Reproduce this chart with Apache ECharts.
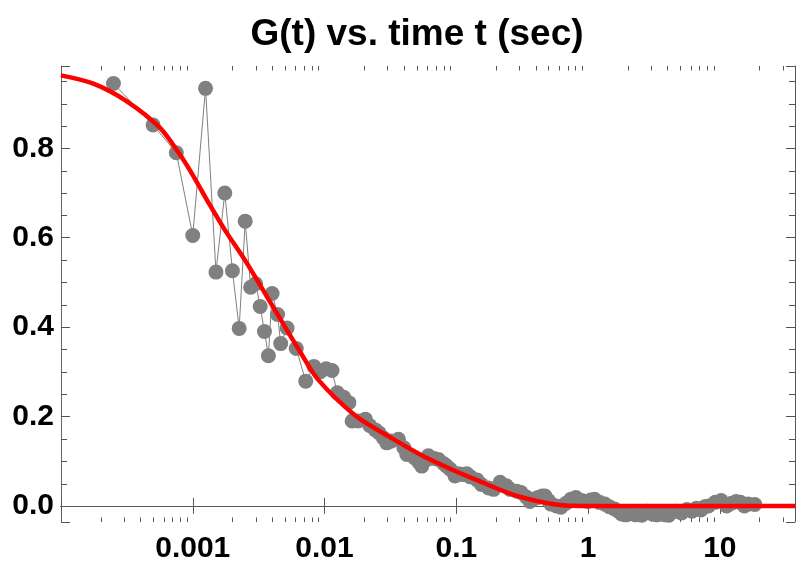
<!DOCTYPE html>
<html>
<head>
<meta charset="utf-8">
<script src="https://cdn.jsdelivr.net/npm/echarts@6/dist/echarts.min.js"></script>
<style>
html,body{margin:0;padding:0;background:#fff;}
#chart{width:798px;height:564px;}
</style>
</head>
<body>
<div id="chart"></div>
<script>
// ---- data ----
const titleText = 'G(t) vs. time t (sec)';
const xMin = 0.0001;
const xMax = 37.2;
const yMin = -0.036;
const yMax = 0.984;

const xTickValues = [0.001, 0.01, 0.1, 1, 10];
const xTickLabels = ['0.001', '0.01', '0.1', '1', '10'];
const yTickValues = [0, 0.2, 0.4, 0.6, 0.8];
const yTickLabels = ['0.0', '0.2', '0.4', '0.6', '0.8'];

const xMinorTicks = [
  0.0002, 0.0003, 0.0004, 0.0005, 0.0006, 0.0007, 0.0008, 0.0009,
  0.002, 0.003, 0.004, 0.005, 0.006, 0.007, 0.008, 0.009,
  0.02, 0.03, 0.04, 0.05, 0.06, 0.07, 0.08, 0.09,
  0.2, 0.3, 0.4, 0.5, 0.6, 0.7, 0.8, 0.9,
  2, 3, 4, 5, 6, 7, 8, 9,
  20, 30
];
const yMinorTicks = [0.05, 0.1, 0.15, 0.25, 0.3, 0.35, 0.45, 0.5, 0.55, 0.65, 0.7, 0.75, 0.85, 0.9, 0.95];

const times = [
  0.00025, 0.0005, 0.00075, 0.001, 0.00125, 0.0015, 0.00175, 0.002, 0.00225, 0.0025,
  0.00275, 0.003, 0.00325, 0.0035, 0.00375, 0.004,
  0.0044, 0.00465, 0.0052, 0.0061, 0.0072, 0.0083, 0.0093, 0.0103, 0.0114, 0.0125,
  0.014, 0.0153, 0.0162, 0.018, 0.0204, 0.022, 0.0243, 0.026, 0.028, 0.0297,
  0.032, 0.0364, 0.04, 0.0421, 0.048, 0.052, 0.0547, 0.06, 0.0614, 0.068,
  0.0731, 0.08, 0.0845, 0.09, 0.0978, 0.104, 0.112, 0.12, 0.128, 0.144,
  0.155, 0.176, 0.192, 0.215, 0.24, 0.256, 0.288, 0.31, 0.34, 0.362,
  0.384, 0.417, 0.448, 0.471, 0.5, 0.523, 0.576, 0.622, 0.68, 0.74,
  0.807, 0.896, 0.995, 1.05, 1.12, 1.22, 1.34, 1.45, 1.59, 1.7,
  1.8, 1.92, 2.05, 2.3, 2.56, 2.82, 3.07, 3.33, 3.58, 3.84,
  4.1, 4.6, 5.12, 5.63, 6.14, 6.66, 7.17, 7.68, 8.19, 9.22,
  10.24, 11.26, 12.29, 13.31, 14.34, 15.36, 16.38, 18.43
];
const gValues = [
  0.945, 0.852, 0.79, 0.605, 0.934, 0.523, 0.70, 0.526, 0.397, 0.637,
  0.489, 0.497, 0.446, 0.39, 0.336, 0.475,
  0.428, 0.363, 0.398, 0.352, 0.279, 0.312, 0.300, 0.307, 0.303, 0.253,
  0.243, 0.231, 0.19, 0.19, 0.194, 0.18, 0.17, 0.163, 0.152, 0.141,
  0.145, 0.149, 0.13, 0.115, 0.108, 0.098, 0.089, 0.104, 0.112, 0.106,
  0.104, 0.095, 0.089, 0.082, 0.067, 0.072, 0.07, 0.072, 0.065, 0.058,
  0.048, 0.04, 0.037, 0.053, 0.045, 0.037, 0.033, 0.03, 0.02, 0.01,
  0.015, 0.019, 0.022, 0.022, 0.012, 0.004, 0.0, -0.003, 0.006, 0.015,
  0.019, 0.012, 0.01, 0.013, 0.015, 0.008, 0.004, -0.002, -0.007, -0.012,
  -0.018, -0.02, -0.018, -0.02, -0.021, -0.012, -0.018, -0.02, -0.016, -0.02,
  -0.021, -0.012, -0.016, -0.008, -0.012, -0.005, -0.009, -0.002, 0.0, 0.008,
  0.012, 0.0, 0.006, 0.01, 0.008, 0.0, 0.004, 0.003
];

const fitTimes = [
  0.0001, 0.000178, 0.000316, 0.000562, 0.000794, 0.001, 0.00133, 0.00178, 0.00251,
  0.00447, 0.00631, 0.00891, 0.017, 0.0309, 0.055, 0.1, 0.148, 0.265, 0.475,
  0.673, 1, 3.16, 37.2
];
const fitValues = [
  0.963, 0.944, 0.905, 0.846, 0.787, 0.740, 0.676, 0.614, 0.548,
  0.425, 0.352, 0.283, 0.203, 0.155, 0.113, 0.077, 0.056, 0.026, 0.007,
  0.001, 0, 0, 0
];

// ---- build ----
const pointData = times.map((t, i) => [t, gValues[i]]);
const fitData = fitTimes.map((t, i) => [t, fitValues[i]]);

// tick marks: [x, y, side(0 bottom,1 top,2 left,3 right), length]
const tickData = [];
xMinorTicks.forEach(t => { tickData.push([t, yMin, 0, 4.5]); tickData.push([t, yMax, 1, 4.5]); });
yMinorTicks.forEach(v => { tickData.push([xMin, v, 2, 6]); tickData.push([xMax, v, 3, 6]); });

function labelFrom(values, labels, v) {
  for (let i = 0; i < values.length; i++) {
    const ref = values[i];
    if (ref === 0 ? Math.abs(v) < 1e-9 : Math.abs(v / ref - 1) < 1e-6) return labels[i];
  }
  return '';
}

const axisColor = '#555';
const labelFont = {
  fontFamily: '"Liberation Sans", Arial, Helvetica, sans-serif',
  fontWeight: 'bold',
  fontSize: 30,
  color: '#000'
};

const chart = echarts.init(document.getElementById('chart'), null, {renderer: 'canvas'});
chart.setOption({
  animation: false,
  backgroundColor: '#fff',
  title: {
    text: titleText,
    left: 412,
    top: 11,
    textAlign: 'center',
    textStyle: {
      fontFamily: '"Liberation Sans", Arial, Helvetica, sans-serif',
      fontWeight: 'bold',
      fontSize: 37,
      color: '#000'
    }
  },
  grid: {left: 61, right: 0, top: 66, bottom: 41, containLabel: false},
  xAxis: [{
    type: 'log', logBase: 10, min: xMin, max: xMax, position: 'bottom',
    axisLine: {show: true, lineStyle: {color: '#222', width: 1}},
    axisTick: {show: true, inside: true, length: 8, lineStyle: {color: axisColor}},
    minorTick: {show: false},
    splitLine: {show: false},
    axisLabel: Object.assign({
      margin: 12,
      showMinLabel: true, showMaxLabel: true,
      formatter: v => labelFrom(xTickValues, xTickLabels, v)
    }, labelFont)
  }, {
    type: 'log', logBase: 10, min: xMin, max: xMax, position: 'top',
    axisLine: {show: true, lineStyle: {color: axisColor, width: 1}},
    axisTick: {show: true, inside: true, length: 8, lineStyle: {color: axisColor}},
    splitLine: {show: false},
    axisLabel: {show: false}
  }],
  yAxis: [{
    type: 'value', min: yMin, max: yMax, splitNumber: 5, position: 'left',
    axisLine: {show: true, lineStyle: {color: '#666', width: 1}},
    axisTick: {show: true, inside: true, length: 9, lineStyle: {color: axisColor}},
    splitLine: {show: false},
    axisLabel: Object.assign({
      margin: 7,
      formatter: v => labelFrom(yTickValues, yTickLabels, v)
    }, labelFont)
  }, {
    type: 'value', min: yMin, max: yMax, splitNumber: 5, position: 'right',
    axisLine: {show: true, lineStyle: {color: axisColor, width: 1}},
    axisTick: {show: true, inside: true, length: 9, lineStyle: {color: axisColor}},
    splitLine: {show: false},
    axisLabel: {show: false}
  }],
  series: [{
    type: 'custom',
    name: 'ticks',
    xAxisIndex: 0, yAxisIndex: 0,
    silent: true,
    clip: false,
    z: 1,
    data: tickData,
    renderItem: function (params, api) {
      const side = api.value(2);
      const len = api.value(3);
      const p = api.coord([api.value(0), api.value(1)]);
      let x1 = p[0], y1 = p[1];
      if (side <= 1) { x1 = Math.round(x1) + 0.5; } else { y1 = Math.round(y1) + 0.5; }
      let x2 = x1, y2 = y1;
      if (side === 0) y2 = y1 - len;
      else if (side === 1) y2 = y1 + len;
      else if (side === 2) x2 = x1 + len;
      else x2 = x1 - len;
      return {type: 'line', shape: {x1: x1, y1: y1, x2: x2, y2: y2}, style: {stroke: axisColor, lineWidth: 1}};
    }
  }, {
    type: 'line',
    name: 'G(t)',
    xAxisIndex: 0, yAxisIndex: 0,
    data: pointData,
    symbol: 'circle',
    symbolSize: 15,
    showSymbol: true,
    showAllSymbol: true,
    itemStyle: {color: '#808080'},
    lineStyle: {color: '#808080', width: 1},
    z: 2
  }, {
    type: 'line',
    name: 'fit',
    xAxisIndex: 0, yAxisIndex: 0,
    data: fitData,
    symbol: 'none',
    smooth: 0.3,
    lineStyle: {color: '#ff0000', width: 4.5},
    z: 3
  }]
});
</script>
</body>
</html>
